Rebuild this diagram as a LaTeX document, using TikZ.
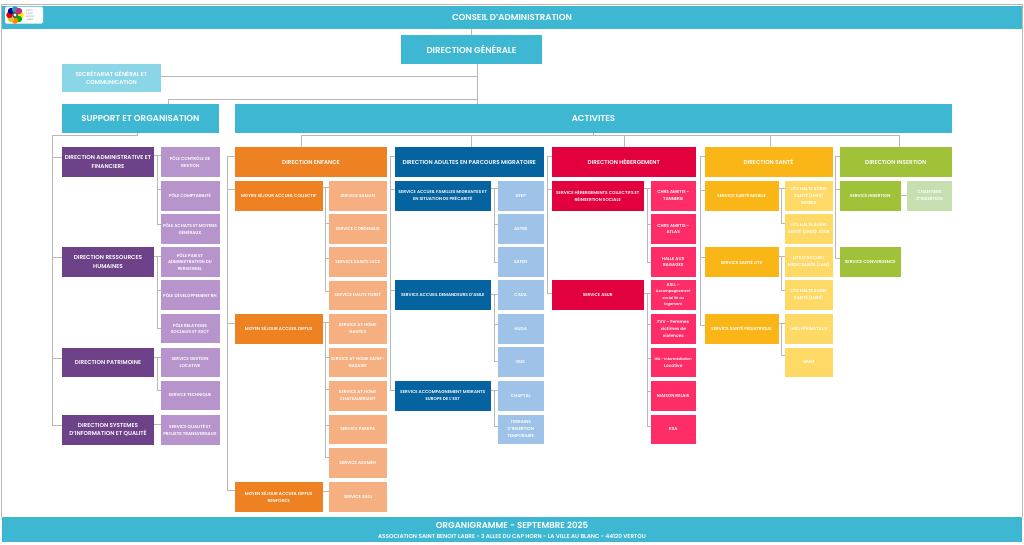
\documentclass[tikz,border=0pt]{standalone}
\usepackage{fontspec}
\setmainfont{Poppins}[BoldFont={* SemiBold}]
\definecolor{teal}{HTML}{3EB8D2}
\definecolor{tealL}{HTML}{8AD5E6}
\definecolor{purp}{HTML}{6E4289}
\definecolor{purpL}{HTML}{B795CC}
\definecolor{oran}{HTML}{EE8121}
\definecolor{oranL}{HTML}{F5AF80}
\definecolor{blu}{HTML}{0563A0}
\definecolor{bluL}{HTML}{9EC2E8}
\definecolor{redd}{HTML}{E2003E}
\definecolor{redL}{HTML}{FF2D67}
\definecolor{yel}{HTML}{FAB516}
\definecolor{yelL}{HTML}{FFD966}
\definecolor{grn}{HTML}{A0C238}
\definecolor{grnL}{HTML}{C5DFB0}
\definecolor{linkc}{HTML}{B8B8B8}
\newcommand\smr[1]{{\fontsize{3.6}{5.8}\selectfont #1}}
\tikzset{
 bx/.style={inner sep=0pt,outer sep=0pt,align=center,text=white,font=\bfseries},
 fs1/.style={font=\fontsize{8.6}{10}\selectfont\bfseries},
 fs2/.style={font=\fontsize{5.7}{8.4}\selectfont\bfseries},
 fs3/.style={font=\fontsize{4.3}{6.8}\selectfont\bfseries},
 head/.style={fill=teal,fs1},
 pd/.style={fill=purp,fs2}, pl/.style={fill=purpL,fs3},
 od/.style={fill=oran,fs2}, om/.style={fill=oran,fs3}, ol/.style={fill=oranL,fs3},
 bd/.style={fill=blu,fs2}, bm/.style={fill=blu,fs3}, bl/.style={fill=bluL,fs3},
 rd/.style={fill=redd,fs2}, rm/.style={fill=redd,fs3}, rl/.style={fill=redL,fs3},
 yd/.style={fill=yel,fs2}, ym/.style={fill=yel,fs3}, yl/.style={fill=yelL,fs3},
 gd/.style={fill=grn,fs2}, gm/.style={fill=grn,fs3}, gl/.style={fill=grnL,fs3},
 link/.style={draw=linkc,line width=0.9pt},
}
% name, style, x0, y0, x1, y1, text
\newcommand\bxn[7]{%
 \pgfmathsetmacro\bxw{#5-#3}\pgfmathsetmacro\bxh{#6-#4}%
 \pgfmathsetmacro\bxx{(#3+#5)/2}\pgfmathsetmacro\bxy{(#4+#6)/2}%
 \node[bx,#2,minimum width=\bxw pt,minimum height=\bxh pt] (#1) at (\bxx,\bxy) {#7};}
% parent, exit y, rail x, list of child/y
\newcommand\hub[4]{%
 \draw[link] (#1.east |- 0,#2) -- (#3,#2);
 \foreach \kid/\ky in {#4} {\draw[link] (#3,#2) -- (#3,\ky) -- (\kid.west |- 0,\ky);}}
% parent, rail x, list of child/y  (parent left side)
\newcommand\rail[3]{%
 \foreach \kid/\ky in {#3} {\draw[link] (#2,156) -- (#2,\ky) -- (\kid.west |- 0,\ky);}}
\begin{document}
\begin{tikzpicture}[x=1pt,y=-1pt]
\useasboundingbox (0,0) rectangle (1024,544);
\fill[white] (0,0) rectangle (1024,544);
\draw[linkc,line width=1pt] (1.5,517) -- (1.5,4.5) -- (1022.5,4.5) -- (1022.5,517);

% boxes
\bxn{ca}{head}{2}{5.5}{1022}{29}{CONSEIL D'ADMINISTRATION}
\bxn{dg}{head}{401}{35}{542}{64}{DIRECTION GÉNÉRALE}
\bxn{sg}{fill=tealL,fs2}{62}{63.5}{161}{92}{SECRÉTARIAT GÉNÉRAL ET\\COMMUNICATION}
\bxn{sup}{head}{62}{104}{219}{133}{SUPPORT ET ORGANISATION}
\bxn{act}{head}{235}{104}{952}{133}{ACTIVITES}
\bxn{pied}{fill=teal}{2}{517}{1022}{541.5}{}
\node[text=white,font=\fontsize{8.6}{10}\selectfont\bfseries,inner sep=0pt] (pa) at (512,525) {ORGANIGRAMME - SEPTEMBRE 2025};
\node[text=white,font=\fontsize{5.7}{7}\selectfont\bfseries,inner sep=0pt] (pb) at (512,536) {ASSOCIATION SAINT BENOIT LABRE - 3 ALLEE DU CAP HORN - LA VILLE AU BLANC - 44120 VERTOU};

% support
\bxn{da}{pd}{62}{147}{154}{177}{DIRECTION ADMINISTRATIVE ET\\FINANCIERE}
\bxn{drh}{pd}{62}{247}{154}{277}{DIRECTION RESSOURCES\\HUMAINES}
\bxn{dp}{pd}{62}{348}{154}{377}{DIRECTION PATRIMOINE}
\bxn{dsi}{pd}{62}{415}{154}{444.5}{DIRECTION SYSTEMES\\D'INFORMATION ET QUALITÉ}
\bxn{p1}{pl}{160.5}{147}{219.5}{177}{PÔLE CONTRÔLE DE\\GESTION}
\bxn{p2}{pl}{160.5}{181}{219.5}{210.5}{PÔLE COMPTABILITÉ}
\bxn{p3}{pl}{160.5}{214}{219.5}{244}{PÔLE ACHATS ET MOYENS\\GÉNÉRAUX}
\bxn{p4}{pl}{160.5}{247}{219.5}{277}{PÔLE PAIE ET\\ADMINISTRATION DU\\PERSONNEL}
\bxn{p5}{pl}{160.5}{280}{219.5}{310}{PÔLE DÉVELOPPEMENT RH}
\bxn{p6}{pl}{160.5}{314}{219.5}{343}{PÔLE RELATIONS\\SOCIALES ET SSCT}
\bxn{p7}{pl}{160.5}{348}{219.5}{377}{SERVICE GESTION\\LOCATIVE}
\bxn{p8}{pl}{160.5}{381}{219.5}{410}{SERVICE TECHNIQUE}
\bxn{p9}{pl}{160.5}{415}{219.5}{444.5}{SERVICE QUALITÉ ET\\PROJETS TRANSVERSAUX}

% enfance
\bxn{de}{od}{235}{147}{387}{177}{DIRECTION ENFANCE}
\bxn{e1}{om}{235}{181}{322.5}{210.5}{MOYEN SÉJOUR ACCUEIL COLLECTIF}
\bxn{e2}{om}{235}{314}{322.5}{343.5}{MOYEN SÉJOUR ACCUEIL DIFFUS}
\bxn{e3}{om}{235}{482}{322.5}{511.5}{MOYEN SÉJOUR ACCUEIL DIFFUS\\RENFORCE}
\bxn{s1}{ol}{328.5}{181}{387}{210.5}{SERVICE SAMAN}
\bxn{s2}{ol}{328.5}{214}{387}{244}{SERVICE CORDEMAIS}
\bxn{s3}{ol}{328.5}{247}{387}{277}{SERVICE SAINTE LUCE}
\bxn{s4}{ol}{328.5}{280.5}{387}{310}{SERVICE HAUTE FORET}
\bxn{s5}{ol}{328.5}{314}{387}{343.5}{SERVICE AT HOME\\NANTES}
\bxn{s6}{ol}{328.5}{347.5}{387}{377}{SERVICE AT HOME SAINT-\\NAZAIRE}
\bxn{s7}{ol}{328.5}{381}{387}{410.5}{SERVICE AT HOME\\CHATEAUBRIANT}
\bxn{s8}{ol}{328.5}{414.5}{387}{444}{SERVICE PAMIPA}
\bxn{s9}{ol}{328.5}{448}{387}{477.5}{SERVICE ASAMEH}
\bxn{s10}{ol}{328.5}{481.5}{387}{511.5}{SERVICE SADI}

% adultes
\bxn{dm}{bd}{395}{147}{543.5}{177}{DIRECTION ADULTES EN PARCOURS MIGRATOIRE}
\bxn{m1}{bm}{395}{181}{490.5}{210.5}{SERVICE ACCUEIL FAMILLES MIGRANTES ET\\EN SITUATION DE PRÉCARITÉ}
\bxn{m2}{bm}{395}{280}{490.5}{310}{SERVICE ACCUEIL DEMANDEURS D'ASILE}
\bxn{m3}{bm}{395}{381}{490.5}{410.5}{SERVICE ACCOMPAGNEMENT MIGRANTS\\EUROPE DE L'EST}
\bxn{a1}{bl}{498}{181}{543.5}{210.5}{AFEP}
\bxn{a2}{bl}{498}{214}{543.5}{244}{ASTRE}
\bxn{a3}{bl}{498}{247}{543.5}{277}{SAFED}
\bxn{a4}{bl}{498}{280}{543.5}{310}{CADA}
\bxn{a5}{bl}{498}{314}{543.5}{343.5}{HUDA}
\bxn{a6}{bl}{498}{347}{543.5}{377}{DUK}
\bxn{a7}{bl}{498}{381}{543.5}{410.5}{CHAPTAL}
\bxn{a8}{bl}{498}{414.5}{543.5}{444}{TERRAINS\\D'INSERTION\\TEMPORAIRE}

% hebergement
\bxn{dh}{rd}{551.5}{147}{696}{177}{DIRECTION HÉBERGEMENT}
\bxn{h1}{rm}{551.5}{181}{644}{210.5}{SERVICE HÉBERGEMENTS COLLECTIFS ET\\RÉINSERTION SOCIALE}
\bxn{h2}{rm}{551.5}{280}{644}{310}{SERVICE ASUR}
\bxn{r1}{rl}{650.5}{181}{696}{210.5}{CHRS AMETIS -\\TANNERIE}
\bxn{r2}{rl}{650.5}{214}{696}{244}{CHRS AMETIS -\\ATLAS}
\bxn{r3}{rl}{650.5}{247}{696}{277}{HALLE AUX\\BAGAGES}
\bxn{r4}{rl}{650.5}{280}{696}{310}{ASLL -\\[-0.4pt]\smr{Accompagnement}\\[-0.4pt]\smr{social lié au}\\[-0.4pt]\smr{logement}}
\bxn{r5}{rl}{650.5}{314}{696}{343.5}{FVV - Femmes\\victimes de\\violences}
\bxn{r6}{rl}{650.5}{347.5}{696}{377}{\smr{IML - Intermédiation}\\Locative}
\bxn{r7}{rl}{650.5}{381}{696}{410.5}{MAISON RELAIS}
\bxn{r8}{rl}{650.5}{414.5}{696}{444}{RSA}

% sante
\bxn{ds}{yd}{704.5}{147}{832.5}{177}{DIRECTION SANTÉ}
\bxn{y1}{ym}{704.5}{181}{778.5}{210.5}{SERVICE SANTÉ MOBILE}
\bxn{y2}{ym}{704.5}{247}{778.5}{277}{SERVICE SANTÉ LITS}
\bxn{y3}{ym}{704.5}{314}{778.5}{343.5}{SERVICE SANTÉ PÉDIATRIQUE}
\bxn{l1}{yl}{785}{181}{832.5}{210.5}{LITS HALTE SOINS\\SANTÉ (LHSS)\\MOBILE}
\bxn{l2}{yl}{785}{214}{832.5}{244}{LITS HALTE SOINS\\SANTÉ (LHSS) JOUR}
\bxn{l3}{yl}{785}{247}{832.5}{277}{LITS D'ACCUEIL\\MÉDICALISÉS (LAM)}
\bxn{l4}{yl}{785}{280}{832.5}{310}{LITS HALTE SOINS\\SANTÉ (LHSS)}
\bxn{l5}{yl}{785}{314}{832.5}{343.5}{LHSS PÉRINATAUX}
\bxn{l6}{yl}{785}{347.5}{832.5}{377}{MUM}

% insertion
\bxn{di}{gd}{839.5}{147}{952}{177}{DIRECTION INSERTION}
\bxn{g1}{gm}{839.5}{181}{901}{210.5}{SERVICE INSERTION}
\bxn{g2}{gm}{839.5}{247}{901}{277}{SERVICE CONVERGENCE}
\bxn{g3}{gl}{907}{181}{952}{210.5}{CHANTIERS\\D'INSERTION}

% connectors: top
\draw[link] (ca.south -| dg.north) -- (dg.north);
\coordinate (cdg) at (477,64);
\draw[link] (dg.south -| cdg) -- (act.north -| cdg);
\draw[link] (sg.east |- 0,76.5) -- (cdg |- 0,76.5);
\draw[link] (sup.north -| 168,0) -- (168,99) -- (cdg |- 0,99);
% support
\draw[link] (sup.south -| 137.5,0) -- (137.5,135) -- (52,135) -- (52,425) -- (dsi.west |- 0,425);
\foreach \n/\y in {da/157,drh/257,dp/358} {\draw[link] (52,\y) -- (\n.west |- 0,\y);}
\hub{da}{155}{157}{p1/155,p2/189,p3/224}
\hub{drh}{256}{157}{p4/256,p5/290,p6/328}
\hub{dp}{357}{157}{p7/357,p8/390}
\draw[link] (dsi.east |- 0,424) -- (p9.west |- 0,424);
% activites
\draw[link] (act.south -| 593,0) -- (593,135);
\draw[link] (301,135) -- (899,135);
\draw[link] (301,135) -- (de.north -| 301,0);
\draw[link] (471,135) -- (dm.north -| 471,0);
\draw[link] (624,135) -- (dh.north -| 624,0);
\draw[link] (770,135) -- (ds.north -| 770,0);
\draw[link] (899,135) -- (di.north -| 899,0);
% enfance
\rail{de}{227}{de/156,e1/189,e2/323,e3/490}
\hub{e1}{187}{325}{s1/187,s2/223,s3/258,s4/291}
\hub{e2}{322}{325}{s5/322,s6/357,s7/389,s8/425,s9/457}
\draw[link] (e3.east |- 0,491) -- (s10.west |- 0,491);
% adultes
\rail{dm}{390}{dm/156,m1/189,m2/290,m3/390}
\hub{m1}{188}{494}{a1/188,a2/224,a3/262}
\hub{m2}{294}{494}{a4/294,a5/324,a6/361}
\hub{m3}{390}{494}{a7/390,a8/426}
% hebergement
\rail{dh}{547}{dh/156,h1/189,h2/293}
\hub{h1}{188}{647}{r1/188,r2/224,r3/262}
\hub{h2}{293}{647}{r4/293,r5/324,r6/358,r7/391,r8/426}
% sante
\rail{ds}{700}{ds/156,y1/190,y2/257,y3/325}
\hub{y1}{188}{781}{l1/188,l2/223}
\hub{y2}{256}{781}{l3/256,l4/290}
\hub{y3}{323}{781}{l5/323,l6/355}
% insertion
\rail{di}{835}{di/156,g1/189,g2/258}
\draw[link] (g1.east |- 0,195) -- (g3.west |- 0,195);

% logo
\fill[white,rounded corners=1.5pt] (5,6.5) rectangle (43,23.5);
\foreach \a/\c in {0/yellow!90!orange,45/green!70!black,90/orange,135/yellow!80!black,180/red!90!black,225/blue!60!black,270/cyan!70!black,315/magenta!80!black}
 {\fill[\c] (15,15) ++(\a:5.6) circle (3.2);}
\fill[black!70] (15,15) circle (3);
\fill[white] (15,15) circle (1.6);
\node[inner sep=0pt,align=left,text=black!30,font=\fontsize{2.4}{2.9}\selectfont\bfseries,anchor=west] (logot) at (26,15) {ASSO\\SAINT\\BENOIT\\LABRE};
\end{tikzpicture}
\end{document}
